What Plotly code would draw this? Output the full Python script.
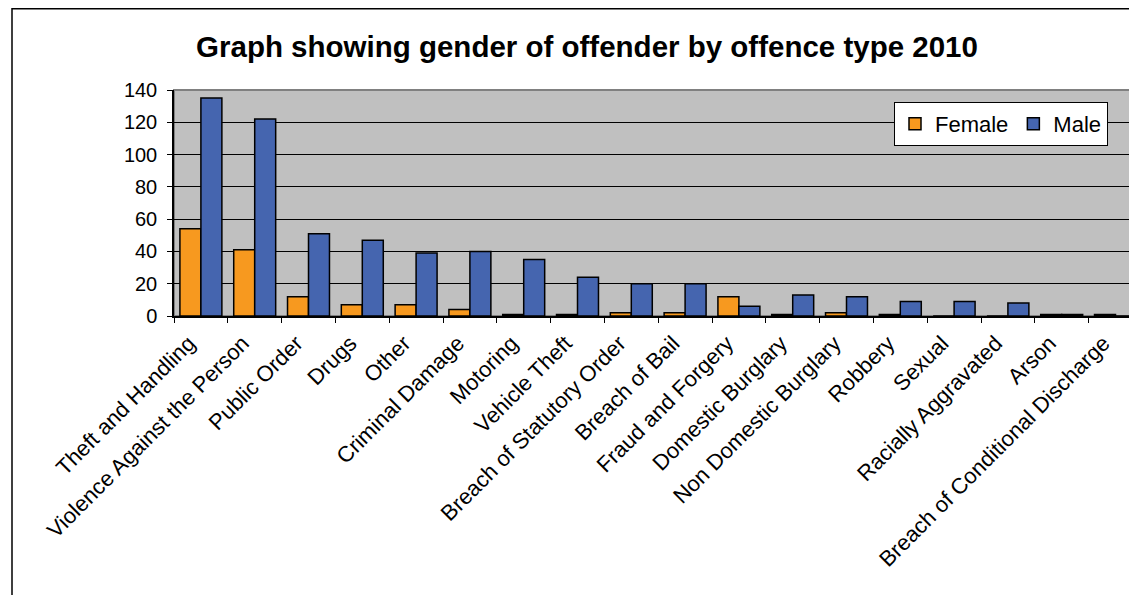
import plotly.graph_objects as go

categories = ["Theft and Handling", "Violence Against the Person", "Public Order", "Drugs",
              "Other", "Criminal Damage", "Motoring", "Vehicle Theft",
              "Breach of Statutory Order", "Breach of Bail", "Fraud and Forgery",
              "Domestic Burglary", "Non Domestic Burglary", "Robbery", "Sexual",
              "Racially Aggravated", "Arson", "Breach of Conditional Discharge"]
female = [54, 41, 12, 7, 7, 4, 1, 1, 2, 2, 12, 1, 2, 1, 0, 0, 1, 1]
male = [135, 122, 51, 47, 39, 40, 35, 24, 20, 20, 6, 13, 12, 9, 9, 8, 1, 0]
y_ticks = [0, 20, 40, 60, 80, 100, 120, 140]

W, H = 1137, 595
OFF = 8  # page body margin offset
L, R, T = 174 - OFF, 0, 90 - OFF
B = H - (316 - OFF)
pw, ph = W - L - R, H - T - B

FONT = "Liberation Sans, Arial, sans-serif"

fig = go.Figure()
fig.add_trace(go.Bar(name="Female", x=categories, y=female,
                     marker=dict(color="#F7991F", line=dict(color="black", width=1.5))))
fig.add_trace(go.Bar(name="Male", x=categories, y=male,
                     marker=dict(color="#4565AF", line=dict(color="black", width=1.5))))

cat_w = 53.8
span = pw / cat_w

fig.update_layout(
    width=W, height=H,
    margin=dict(l=L, r=R, t=T, b=B, autoexpand=False),
    paper_bgcolor="white",
    plot_bgcolor="#C0C0C0",
    barmode="group",
    bargap=0.22,
    bargroupgap=0,
    font=dict(family=FONT, color="black", size=20),
    title=dict(text="<b>Graph showing gender of offender by offence type 2010</b>",
               x=(587 - OFF) / W, xanchor="center", y=1 - (47 - OFF) / H, yanchor="middle",
               font=dict(family=FONT, size=29.5, color="black")),
    legend=dict(orientation="h", x=(1108 - OFF - L) / pw, xanchor="right",
                y=(316 - 102) / ph, yanchor="top",
                bgcolor="white", bordercolor="black", borderwidth=1,
                font=dict(family=FONT, size=22, color="black"),
                traceorder="normal", itemclick=False),
    xaxis=dict(type="category", range=[-0.5, -0.5 + span], tickangle=-45,
               showline=True, linecolor="black", linewidth=1.5,
               ticks="outside", tickson="boundaries", ticklen=5, tickcolor="black",
               showgrid=False, automargin=False, ticklabelstandoff=4, ticklabelshift=-12,
               tickfont=dict(family=FONT, size=22, color="black")),
    yaxis=dict(range=[0, 140], tickvals=y_ticks, showline=True, linecolor="black",
               linewidth=1.5, ticks="outside", ticklen=5, tickcolor="black",
               showgrid=True, gridcolor="black", gridwidth=1, zeroline=False,
               automargin=False, ticklabelstandoff=6,
               tickfont=dict(family=FONT, size=20, color="black")),
    shapes=[
        dict(type="rect", xref="paper", yref="paper",
             x0=(12 - OFF - L) / pw, x1=1.2, y0=-3, y1=(316 - 8 - 0.75) / ph,
             line=dict(color="black", width=1.5), fillcolor="rgba(0,0,0,0)", layer="below"),
        dict(type="rect", xref="paper", yref="paper", x0=0, x1=1.01, y0=0, y1=1,
             line=dict(color="#808080", width=2), fillcolor="rgba(0,0,0,0)", layer="below"),
    ],
)

fig.write_html("out.html")
